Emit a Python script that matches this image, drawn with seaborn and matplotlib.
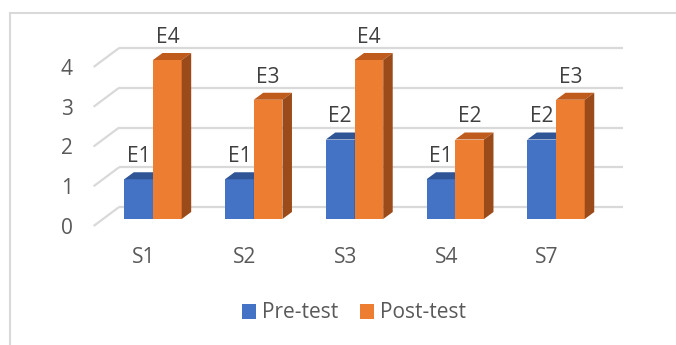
import matplotlib
matplotlib.use("Agg")
import matplotlib.pyplot as plt
import pandas as pd
import seaborn as sns
from matplotlib.patches import Polygon, Patch
from matplotlib.lines import Line2D

# Scores per subject, before and after the intervention
subjects = ["S1", "S2", "S3", "S4", "S7"]
pre_test = [1, 1, 2, 1, 2]
post_test = [4, 3, 4, 2, 3]
series_names = ["Pre-test", "Post-test"]
y_ticks = [0, 1, 2, 3, 4]

front_colors = ["#4472C4", "#ED7D31"]
top_colors = ["#2F5597", "#BF5B1C"]
side_colors = ["#2F5597", "#9A4B19"]
grid_color = "#D9D9D9"
tick_color = "#595959"
label_color = "#404040"
font_size = 15

df = pd.DataFrame({
    "Subject": subjects * 2,
    "Score": pre_test + post_test,
    "Test": [series_names[0]] * len(subjects) + [series_names[1]] * len(subjects),
})

sns.set_theme(style="white")
plt.rcParams["font.family"] = ["Open Sans", "DejaVu Sans"]

W, H, DPI = 676, 345, 100
fig = plt.figure(figsize=(W / DPI, H / DPI), dpi=DPI)
ax_left, ax_right, ax_bottom, ax_top = 93.6, 597.4, 226, 67
ax = fig.add_axes([ax_left / W, 1 - ax_bottom / H,
                   (ax_right - ax_left) / W, (ax_bottom - ax_top) / H])

sns.barplot(data=df, x="Subject", y="Score", hue="Test", hue_order=series_names,
            palette=front_colors, saturation=1, width=0.57, errorbar=None,
            legend=False, ax=ax)
ax.set_xlim(-0.5, len(subjects) - 0.5)
ax.set_ylim(y_ticks[0], y_ticks[-1])

# pixel -> data unit conversion for the oblique projection
px_x = (ax_right - ax_left) / (len(subjects))
px_y = (ax_bottom - ax_top) / (y_ticks[-1] - y_ticks[0])
bar_dx, bar_dy = 9 / px_x, 7 / px_y        # bars sit a little into the depth
dep_dx, dep_dy = 9.5 / px_x, 7 / px_y      # depth of each column
wall_dx, wall_dy = 25.5 / px_x, 19 / px_y  # back wall

x0, x1 = ax.get_xlim()
for t in y_ticks:
    ax.plot([x0, x0 + wall_dx], [t, t + wall_dy], color=grid_color, lw=1.6,
            zorder=1, clip_on=False, solid_capstyle="butt")
    ax.plot([x0 + wall_dx, x1 + wall_dx], [t + wall_dy, t + wall_dy],
            color=grid_color, lw=1.6, zorder=1, clip_on=False, solid_capstyle="butt")

for i, cont in enumerate(ax.containers):
    z = 3 + i
    for bar in cont:
        bx = bar.get_x() + bar_dx
        bw = bar.get_width()
        h = bar.get_height()
        bar.set_x(bx)
        bar.set_y(bar_dy)
        bar.set_zorder(z)
        bar.set_clip_on(False)
        bar.set_linewidth(0)
        top = h + bar_dy
        ax.add_patch(Polygon([(bx, top), (bx + bw, top),
                              (bx + bw + dep_dx, top + dep_dy), (bx + dep_dx, top + dep_dy)],
                             closed=True, facecolor=top_colors[i], lw=0,
                             zorder=z + 0.1, clip_on=False))
        ax.add_patch(Polygon([(bx + bw, bar_dy), (bx + bw + dep_dx, bar_dy + dep_dy),
                              (bx + bw + dep_dx, top + dep_dy), (bx + bw, top)],
                             closed=True, facecolor=side_colors[i], lw=0,
                             zorder=z + 0.1, clip_on=False))
        ax.annotate(f"E{int(h)}", xy=(bx + bw / 2, top), xytext=(0, 17),
                    textcoords="offset pixels", ha="center", va="baseline",
                    fontsize=font_size, color=label_color, zorder=10,
                    annotation_clip=False)

ax.set_yticks(y_ticks)
ax.set_yticklabels([str(t) for t in y_ticks])
ax.set_xlabel("")
ax.set_ylabel("")
ax.tick_params(axis="y", length=0, pad=15, labelsize=font_size, labelcolor=tick_color)
ax.tick_params(axis="x", length=0, pad=15, labelsize=font_size, labelcolor=tick_color)
ax.grid(False)
for s in ax.spines.values():
    s.set_visible(False)
ax.patch.set_visible(False)

handles = [Patch(facecolor=c, lw=0) for c in front_colors]
fig.legend(handles, series_names, loc="center", bbox_to_anchor=(354 / W, 1 - 313 / H),
           ncol=2, frameon=False, fontsize=font_size, labelcolor=tick_color,
           handlelength=0.7, handleheight=0.7, handletextpad=0.3, columnspacing=1.0)

# chart area border
fig.add_artist(Line2D([10 / W, 10 / W], [0, 1 - 13 / H], transform=fig.transFigure,
                      color=grid_color, lw=1.5))
fig.add_artist(Line2D([10 / W, 1], [1 - 13 / H, 1 - 13 / H], transform=fig.transFigure,
                      color=grid_color, lw=1.5))

fig.savefig("out.png", dpi=DPI, facecolor="white")
